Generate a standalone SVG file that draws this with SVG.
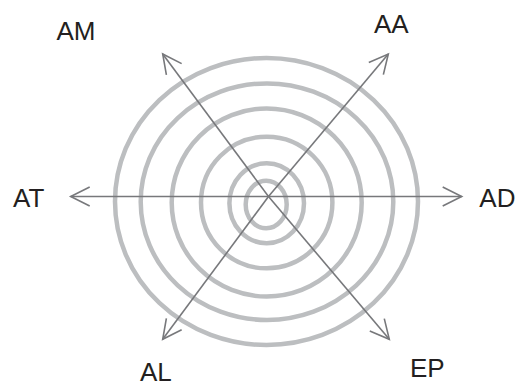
<svg xmlns="http://www.w3.org/2000/svg" width="517" height="387" viewBox="0 0 517 387">
<style>
.ring{fill:none;stroke:#bcbec0;stroke-width:4.5}
.ax{fill:none;stroke:#77787b;stroke-width:1.6}
.lbl{font-family:"Liberation Sans",Arial,sans-serif;font-size:26px;fill:#231f20}
</style>
<defs>
<marker id="ah" markerUnits="userSpaceOnUse" markerWidth="30" markerHeight="30" viewBox="-25 -15 30 30" refX="0" refY="0" orient="auto">
<path d="M-19,-9.5 L0,0 L-19,9.5" fill="none" stroke="#77787b" stroke-width="1.6"/>
</marker>
</defs>
<rect width="517" height="387" fill="#ffffff"/>
<g id="rings">
<ellipse class="ring" cx="266.5" cy="201.5" rx="151.5" ry="143.5"/>
<ellipse class="ring" cx="267" cy="201.7" rx="126.3" ry="118.3"/>
<ellipse class="ring" cx="266.7" cy="202.5" rx="95" ry="94"/>
<ellipse class="ring" cx="266.7" cy="202.5" rx="65.7" ry="65.8"/>
<ellipse class="ring" cx="266.7" cy="203.3" rx="37.3" ry="40"/>
<ellipse class="ring" cx="266.2" cy="204.5" rx="20.5" ry="23.8"/>
</g>
<g id="connectors">
<line class="ax" x1="268.5" y1="196.5" x2="70.7" y2="196.5" marker-end="url(#ah)"/>
<line class="ax" x1="268.5" y1="196.5" x2="461.7" y2="196.5" marker-end="url(#ah)"/>
<line class="ax" x1="268.5" y1="196.5" x2="162.7" y2="54" marker-end="url(#ah)"/>
<line class="ax" x1="268.5" y1="196.5" x2="388.3" y2="54" marker-end="url(#ah)"/>
<line class="ax" x1="268.5" y1="196.5" x2="162.7" y2="339.3" marker-end="url(#ah)"/>
<line class="ax" x1="268.5" y1="196.5" x2="389.3" y2="339.3" marker-end="url(#ah)"/>
</g>
<g id="AM"><text class="lbl" x="56.5" y="40">AM</text></g>
<g id="AA"><text class="lbl" x="374" y="32.7">AA</text></g>
<g id="AT"><text class="lbl" x="13" y="207.3">AT</text></g>
<g id="AD"><text class="lbl" x="479.3" y="207.3">AD</text></g>
<g id="AL"><text class="lbl" x="140" y="381">AL</text></g>
<g id="EP"><text class="lbl" x="410" y="377.3">EP</text></g>
</svg>
